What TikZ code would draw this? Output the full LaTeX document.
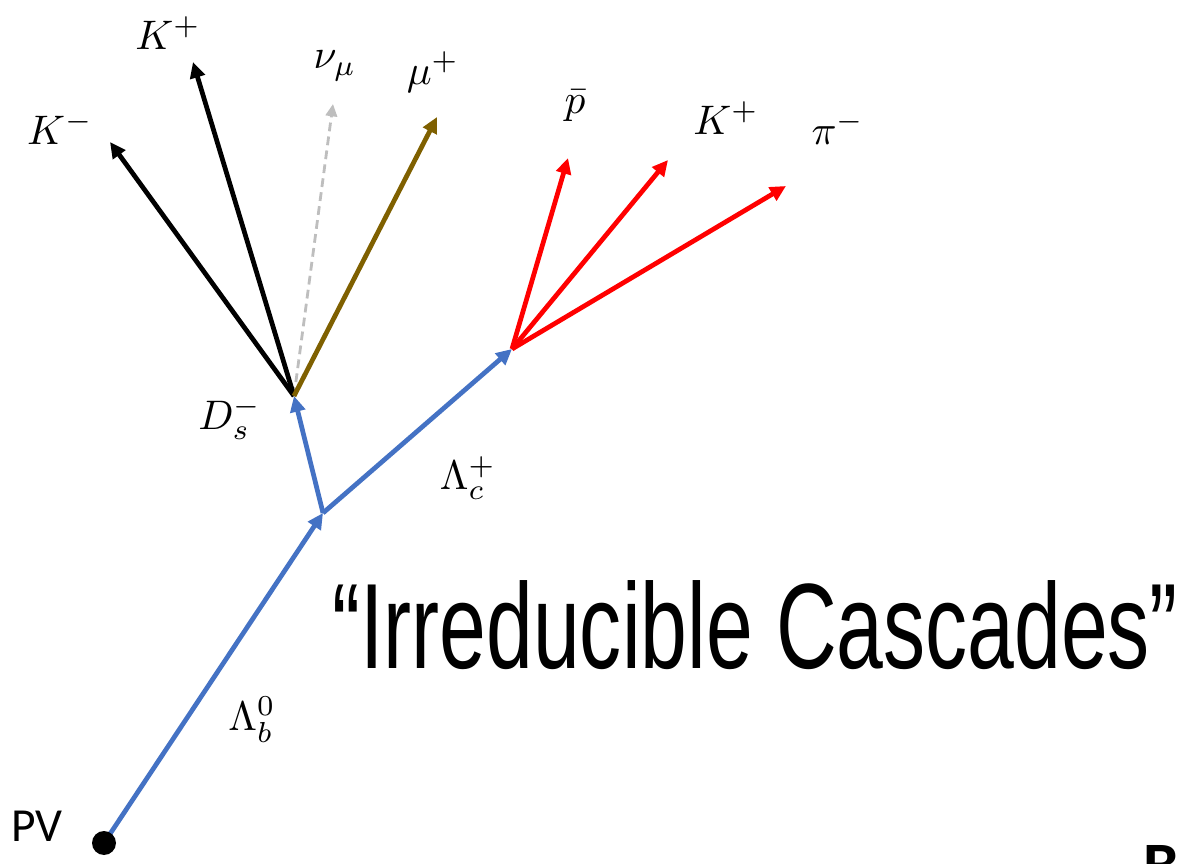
\documentclass[tikz,border=0pt]{standalone}
\usepackage{fontspec}
\usetikzlibrary{arrows.meta}
\newfontfamily\calfont{Carlito}
\newfontfamily\titlefont{Liberation Sans}
\definecolor{trackblue}{RGB}{68,114,196}
\definecolor{trackred}{RGB}{255,0,0}
\definecolor{trackolive}{RGB}{127,96,0}
\definecolor{trackgray}{RGB}{190,190,190}
\newcommand{\plbl}[1]{\scalebox{2.35}{$#1$}}
\tikzset{
  track/.style={line width=2.7pt, -{Triangle[length=9pt,width=8.5pt]}},
  blacktrack/.style={track, draw=black},
  redtrack/.style={track, draw=trackred},
  bluetrack/.style={track, draw=trackblue},
  olivetrack/.style={track, draw=trackolive},
  nutrack/.style={line width=1.6pt, draw=trackgray, dash pattern=on 5pt off 3pt, -{Triangle[length=7pt,width=6.5pt]}},
  lbl/.style={inner sep=0pt}
}
\begin{document}
\begin{tikzpicture}[x=0.02cm,y=-0.02cm]
\useasboundingbox (0,0) rectangle (1187,864);
% vertices
\coordinate (pv) at (104,843);
\coordinate (v1) at (323,513);
\coordinate (ds) at (294,396);
\coordinate (lc) at (512,349);
% track ends
\coordinate (kmEnd) at (110,142);
\coordinate (kpEnd) at (193,62);
\coordinate (nuEnd) at (333,104);
\coordinate (muEnd) at (437,117);
\coordinate (pEnd) at (568,158);
\coordinate (k2End) at (668,160);
\coordinate (piEnd) at (786,186);
% tracks
\draw[bluetrack] (pv) -- (v1);
\draw[bluetrack] (v1) -- (ds);
\draw[bluetrack] (v1) -- (lc);
\draw[nutrack] (ds) -- (nuEnd);
\draw[blacktrack] (ds) -- (kmEnd);
\draw[blacktrack] (ds) -- (kpEnd);
\draw[olivetrack] (ds) -- (muEnd);
\draw[redtrack] (lc) -- (pEnd);
\draw[redtrack] (lc) -- (k2End);
\draw[redtrack] (lc) -- (piEnd);
\fill[black] (pv) circle (12);
% labels
\node[lbl] (lKp) at (168,33) {\plbl{K^{+}}};
\node[lbl] (lKm) at (60,128) {\plbl{K^{-}}};
\node[lbl] (lnu) at (335,66) {\plbl{\nu_{\mu}}};
\node[lbl] (lmu) at (433,72) {\plbl{\mu^{+}}};
\node[lbl] (lp) at (575,106) {\plbl{\bar{p}}};
\node[lbl] (lK2) at (726,118) {\plbl{K^{+}}};
\node[lbl] (lpi) at (838,128) {\plbl{\pi^{-}}};
\node[lbl] (lDs) at (230,418) {\plbl{D_{s}^{-}}};
\node[lbl] (lLc) at (468,478) {\plbl{\Lambda_{c}^{+}}};
\node[lbl] (lLb) at (252,720) {\plbl{\Lambda_{b}^{0}}};
\node[inner sep=0pt, anchor=base west, font=\calfont\fontsize{27}{30}\selectfont] (lpv) at (11,841) {PV};
\node[inner sep=0pt, anchor=south west] (title) at (332,670)
  {\resizebox{16.92cm}{1.76cm}{\titlefont “Irreducible Cascades”}};
\node[inner sep=0pt, anchor=base west, font=\calfont\bfseries\fontsize{36}{38}\selectfont] (cut) at (1143,886) {B};
\end{tikzpicture}
\end{document}
